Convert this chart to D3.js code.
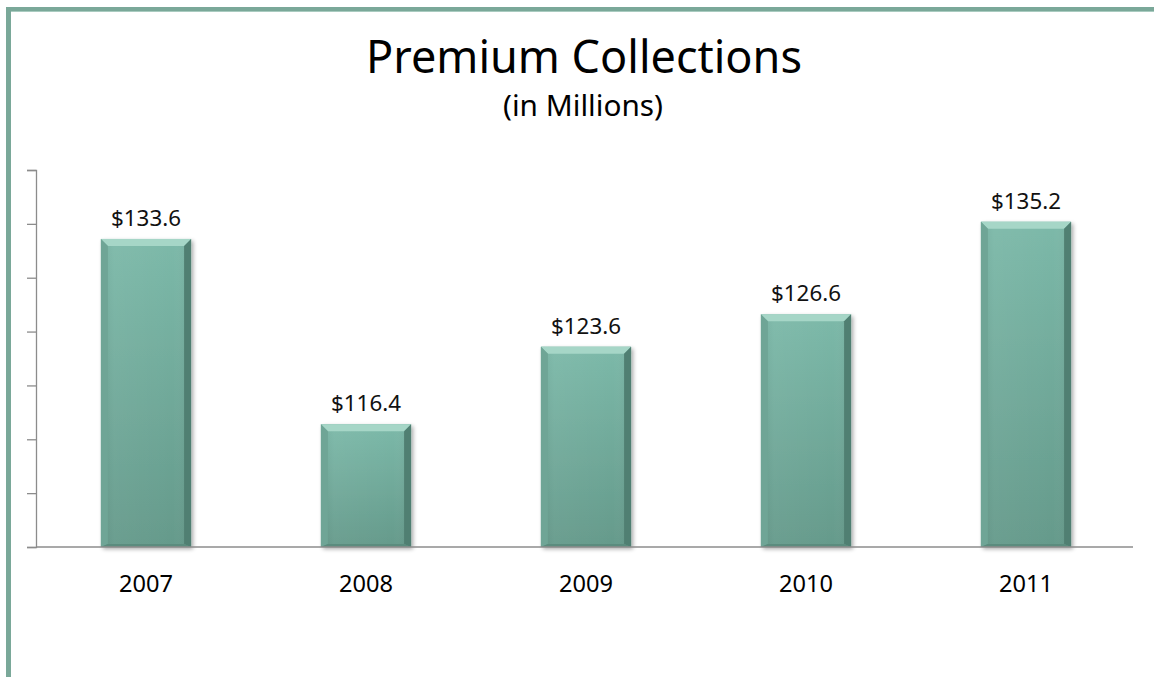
<!DOCTYPE html>
<html><head><meta charset="utf-8">
<script src="https://cdn.jsdelivr.net/npm/d3@7"></script>
<style>html,body{margin:0;padding:0;background:#fff;}svg{display:block;}</style>
</head><body>
<svg id="c" width="1154" height="677"></svg>
<script>
const categories = ["2007","2008","2009","2010","2011"];
const values = [133.6, 116.4, 123.6, 126.6, 135.2];
const valueLabels = ["$133.6","$116.4","$123.6","$126.6","$135.2"];
const yTicks = [105,110,115,120,125,130,135,140];
const title = "Premium Collections";
const subtitle = "(in Millions)";

const svg = d3.select("#c");
const W = 1154, H = 677;
const font = "'Noto Sans', 'Open Sans', sans-serif";

// set font-size so a text's rendered width matches a target width
function fitSize(text, size0, targetW){
  const t = svg.append("text").attr("font-family",font).attr("font-size",size0).text(text);
  const w = t.node().getComputedTextLength(); t.remove();
  return size0 * targetW / w;
}

// frame border
svg.append("rect").attr("x",6).attr("y",7).attr("width",5).attr("height",H-7).attr("fill","#7aa899");
svg.append("rect").attr("x",6).attr("y",7).attr("width",W-6).attr("height",4).attr("fill","#7aa899");
svg.append("rect").attr("x",11).attr("y",11).attr("width",W-11).attr("height",1).attr("fill","#a9cbc0");

const x = d3.scaleBand().domain(categories).range([36,1136]).paddingInner(0.59).paddingOuter(0.295);
const y = d3.scaleLinear().domain([105,140]).range([547,170]);

const defs = svg.append("defs");
const g1 = defs.append("linearGradient").attr("id","barg").attr("x1",0).attr("y1",0).attr("x2",0).attr("y2",1);
g1.append("stop").attr("offset","0%").attr("stop-color","#7cb9a9");
g1.append("stop").attr("offset","100%").attr("stop-color","#659a8b");
const g2 = defs.append("linearGradient").attr("id","barh").attr("x1",0).attr("y1",0).attr("x2",1).attr("y2",0);
g2.append("stop").attr("offset","0%").attr("stop-color","#000").attr("stop-opacity",0.06);
g2.append("stop").attr("offset","15%").attr("stop-color","#fff").attr("stop-opacity",0.04);
g2.append("stop").attr("offset","80%").attr("stop-color","#fff").attr("stop-opacity",0.0);
g2.append("stop").attr("offset","100%").attr("stop-color","#000").attr("stop-opacity",0.08);
const f = defs.append("filter").attr("id","sh").attr("x","-20%").attr("y","-20%").attr("width","140%").attr("height","140%");
f.append("feGaussianBlur").attr("in","SourceAlpha").attr("stdDeviation",2);
f.append("feOffset").attr("dx",2).attr("dy",2).attr("result","b");
f.append("feComponentTransfer").append("feFuncA").attr("type","linear").attr("slope",0.35);
const m = f.append("feMerge"); m.append("feMergeNode"); m.append("feMergeNode").attr("in","SourceGraphic");

// title
svg.append("text").attr("x",584).attr("y",73).attr("text-anchor","middle")
  .attr("font-family",font).attr("font-size",fitSize(title,40,436)).attr("fill","#000").text(title);
svg.append("text").attr("x",583).attr("y",116).attr("text-anchor","middle")
  .attr("font-family",font).attr("font-size",fitSize(subtitle,24,160)).attr("fill","#000").text(subtitle);

// y axis
const ya = svg.append("g").attr("transform","translate(36,0)")
  .call(d3.axisLeft(y).tickValues(yTicks).tickFormat("").tickSize(9).tickSizeOuter(9));
ya.selectAll("path,line").attr("stroke","#8c8c8c").attr("stroke-width",1.3);

// bars
const bw = x.bandwidth(), bev = 7;
const bars = svg.append("g").selectAll("g").data(values).join("g");
bars.append("rect").attr("x",(d,i)=>x(categories[i])).attr("y",d=>y(d))
  .attr("width",bw).attr("height",d=>y(105)-y(d)).attr("fill","url(#barg)").attr("filter","url(#sh)");
bars.append("rect").attr("x",(d,i)=>x(categories[i])).attr("y",d=>y(d))
  .attr("width",bw).attr("height",d=>y(105)-y(d)).attr("fill","url(#barh)");
function poly(pts){return pts.map(p=>p.join(",")).join(" ");}
bars.append("polygon").attr("fill","#a6d6c7").attr("points",(d,i)=>{const x0=x(categories[i]),x1=x0+bw,t=y(d);
  return poly([[x0,t],[x1,t],[x1-bev,t+bev],[x0+bev,t+bev]]);});
bars.append("polygon").attr("fill","#507f72").attr("points",(d,i)=>{const x0=x(categories[i]),x1=x0+bw,t=y(d),b=y(105);
  return poly([[x1,t],[x1,b],[x1-bev,b-3],[x1-bev,t+bev]]);});
bars.append("polygon").attr("fill","#6fa596").attr("points",(d,i)=>{const x0=x(categories[i]),t=y(d),b=y(105);
  return poly([[x0,t],[x0+bev,t+bev],[x0+bev,b-3],[x0,b]]);});
bars.append("polygon").attr("fill","#5b8c7e").attr("points",(d,i)=>{const x0=x(categories[i]),x1=x0+bw,b=y(105);
  return poly([[x0,b],[x0+bev,b-3],[x1-bev,b-3],[x1,b]]);});

// value labels
const vSize = fitSize(valueLabels[0],20,70);
svg.append("g").selectAll("text").data(values).join("text")
  .attr("x",(d,i)=>x(categories[i])+bw/2).attr("y",d=>y(d)-13)
  .attr("text-anchor","middle").attr("font-family",font).attr("font-size",vSize).attr("fill","#111")
  .text((d,i)=>valueLabels[i]);

// x axis
const xSize = fitSize(categories[0],20,54);
const xa = svg.append("g").attr("transform","translate(0,547)")
  .call(d3.axisBottom(x).tickSize(0).tickSizeOuter(0).tickPadding(0));
xa.select("path").attr("d","M36,0H1133").attr("stroke","#8c8c8c").attr("stroke-width",1.3);
xa.selectAll("text").attr("dy",null).attr("y",45).attr("font-family",font).attr("font-size",xSize).attr("fill","#000");
</script>
</body></html>
